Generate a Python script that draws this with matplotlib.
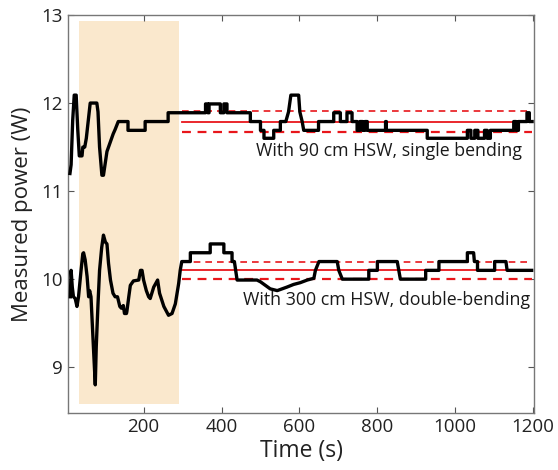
import matplotlib
matplotlib.use("Agg")
import matplotlib.pyplot as plt

plt.rcParams['font.family'] = ['Open Sans', 'DejaVu Sans']

# top trace: 90 cm HSW, single bending
t_top = [11, 14, 18, 22, 27, 31, 35, 42, 44, 49, 53, 58, 63, 80, 83, 87, 93, 97,
         101, 106, 114, 122, 127, 135, 160, 160, 204, 204, 263, 263,
         359, 359, 365, 365, 368, 368, 397, 397, 406, 406, 414, 414,
         474, 474, 500, 500, 509, 509, 534, 534, 551, 551, 565, 572, 578, 598,
         601, 607, 611, 649, 649, 688, 688, 705, 705, 722, 722, 735, 735,
         748, 748, 755, 755, 762, 762, 768, 768, 774, 774, 821, 821, 823, 823,
         928, 928, 1031, 1031, 1040, 1040, 1050, 1050, 1058, 1058, 1075, 1075,
         1082, 1082, 1090, 1090, 1150, 1150, 1156, 1156, 1162, 1162, 1184, 1184,
         1190, 1190, 1197]
w_top = [11.2, 11.3, 11.8, 12.09, 12.09, 11.7, 11.4, 11.4, 11.5, 11.5, 11.6, 11.8,
         12.0, 12.0, 11.9, 11.5, 11.18, 11.18, 11.3, 11.45, 11.55, 11.65, 11.7, 11.79,
         11.79, 11.69, 11.69, 11.79, 11.79, 11.89,
         11.89, 11.99, 11.99, 11.89, 11.89, 11.99, 11.99, 11.89, 11.89, 11.99, 11.99, 11.89,
         11.89, 11.79, 11.79, 11.69, 11.69, 11.60, 11.60, 11.69, 11.69, 11.79, 11.79, 11.9, 12.09, 12.09,
         11.9, 11.79, 11.69, 11.69, 11.79, 11.79, 11.89, 11.89, 11.79, 11.79, 11.89, 11.89, 11.79,
         11.79, 11.69, 11.69, 11.79, 11.79, 11.69, 11.69, 11.79, 11.79, 11.69, 11.69, 11.79, 11.79, 11.69,
         11.69, 11.60, 11.60, 11.69, 11.69, 11.60, 11.60, 11.69, 11.69, 11.60, 11.60, 11.69,
         11.69, 11.60, 11.60, 11.69, 11.69, 11.79, 11.79, 11.69, 11.69, 11.79, 11.79, 11.89,
         11.89, 11.79, 11.79]

# bottom trace: 300 cm HSW, double-bending
t_bot = [12, 14, 17, 20, 24.5, 29, 33, 39.5, 44, 46, 50, 55, 59, 61.5, 65, 70, 76, 78.5,
         83, 87, 92.5, 97, 102, 106, 110, 115, 121.5, 127, 133, 139, 143, 148, 151,
         156, 157, 162, 166, 174, 187.5, 192, 196, 200, 207, 213, 217, 226, 236, 241,
         252, 264, 273, 281.5, 290, 294,
         298, 320, 320, 371, 371, 406, 406, 427, 427, 433, 440, 491, 500, 525, 543,
         568, 585, 602, 620, 637, 641, 650, 697, 701, 710, 778, 778, 800, 800, 851,
         855, 859, 924, 924, 958, 958, 1031, 1031, 1047, 1049, 1057, 1057, 1101, 1101,
         1130, 1133, 1196]
w_bot = [9.80, 10.10, 9.91, 9.80, 9.78, 9.69, 9.80, 10.10, 10.29, 10.30, 10.22, 10.03,
         9.80, 9.87, 9.80, 9.34, 8.80, 9.23, 9.72, 10.10, 10.36, 10.50, 10.42, 10.40,
         10.18, 9.99, 9.84, 9.80, 9.80, 9.69, 9.67, 9.70, 9.61, 9.61, 9.63, 9.80, 9.93,
         9.98, 9.99, 10.10, 10.10, 9.99, 9.87, 9.80, 9.78, 9.91, 9.99, 9.84, 9.69, 9.59,
         9.61, 9.72, 9.95, 10.10,
         10.20, 10.20, 10.30, 10.30, 10.40, 10.40, 10.30, 10.30, 10.20, 10.20, 9.99, 9.99,
         9.97, 9.89, 9.87, 9.91, 9.94, 9.96, 9.99, 10.01, 10.10, 10.20, 10.20, 10.10, 10.0,
         10.0, 10.10, 10.10, 10.20, 10.20, 10.10, 10.0, 10.0, 10.10, 10.10, 10.20, 10.20,
         10.30, 10.30, 10.20, 10.20, 10.10, 10.10, 10.20, 10.20, 10.10, 10.10]

# mean and +/- band after settling
mean_top, band_top = 11.79, (11.91, 11.67)
mean_bot, band_bot = 10.10, (10.20, 10.00)
steady = (299, 1197)
transient = (35, 292)
shade_y = (8.58, 12.93)

xticks = [200, 400, 600, 800, 1000, 1200]
yticks = [9, 10, 11, 12, 13]

fig = plt.figure(figsize=(5.58, 4.70), dpi=100)
ax = fig.add_axes([68/558, 57/470, (534-68)/558, (413-15)/470])

ax.fill_between(transient, shade_y[0], shade_y[1], color='#FAE8CD', lw=0, zorder=0)

for m, band in [(mean_top, band_top), (mean_bot, band_bot)]:
    ax.plot(steady, [m, m], color='#E8161B', lw=1.3, zorder=2)
    ax.plot(steady, [band[0], band[0]], color='#E8161B', lw=1.2, ls=(0, (4, 3)), zorder=2)
    ax.plot(steady, [band[1], band[1]], color='#E8161B', lw=1.6, ls=(0, (4, 3)), zorder=2)

ax.plot(t_top, w_top, color='black', lw=2.4, zorder=3)
ax.plot(t_bot, w_bot, color='black', lw=2.4, zorder=3)

ax.text(1172, 11.46, 'With 90 cm HSW, single bending', ha='right', va='center', fontsize=12.8, color='#1a1a1a')
ax.text(1193, 9.76, 'With 300 cm HSW, double-bending', ha='right', va='center', fontsize=12.8, color='#1a1a1a')

ax.set_xlim(6, 1202)
ax.set_ylim(8.48, 13)
ax.set_xticks(xticks)
ax.set_yticks(yticks)
ax.tick_params(direction='in', top=True, right=True, labelsize=13.5, length=4, colors='#555555', labelcolor='#222222')
for s in ax.spines.values():
    s.set_color('#777777')
    s.set_linewidth(1.0)

ax.set_xlabel('Time (s)', fontsize=16.5, color='#222222', labelpad=2)
ax.set_ylabel('Measured power (W)', fontsize=16, color='#222222', labelpad=6)

fig.savefig('out.png', dpi=100)
